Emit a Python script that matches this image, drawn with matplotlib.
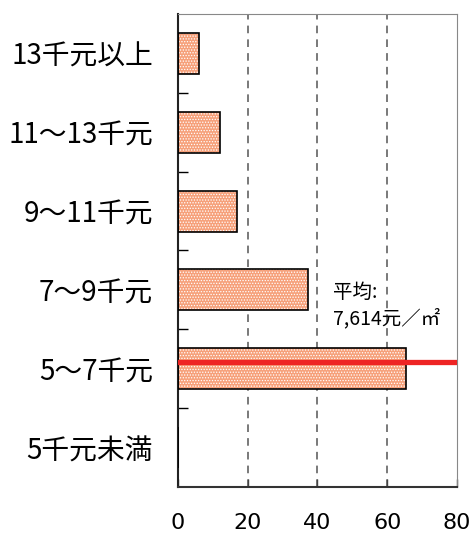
import numpy as np
import matplotlib.pyplot as plt

plt.rcParams['font.family'] = ['Noto Sans CJK JP', 'DejaVu Sans']
plt.rcParams['hatch.linewidth'] = 0.6

# 単価帯別の割合（%）
categories = ["13千元以上", "11～13千元", "9～11千元", "7～9千元", "5～7千元", "5千元未満"]
shares = [6.0, 12.0, 17.0, 37.3, 65.4, 0.0]
x_ticks = [0, 20, 40, 60, 80]
avg_label = "平均:\n7,614元／㎡"
avg_row = 3.92  # position of the average marker, in category units

fig = plt.figure(figsize=(4.7, 5.34), dpi=100)
ax = fig.add_axes([0.3787, 0.088, 0.5936, 0.8858])

y = np.arange(len(categories))
ax.barh(y, shares, height=0.52, color="#F6A07A", edgecolor="white",
        hatch="......", linewidth=0, zorder=2)
ax.barh(y, shares, height=0.52, fill=False, edgecolor="black",
        linewidth=1.2, zorder=3)

ax.axhline(avg_row, color="#EE2424", linewidth=3.8, zorder=4)
ax.text(44.5, 3.2, avg_label, fontsize=14, linespacing=1.35,
        va="center", ha="left")

ax.set_xlim(0, 80)
ax.set_ylim(len(categories) - 0.5, -0.5)
ax.set_xticks(x_ticks)
ax.set_xticklabels([str(t) for t in x_ticks], family="DejaVu Sans")
ax.set_yticks(y)
ax.set_yticklabels(categories)
ax.set_yticks(np.arange(0.5, len(categories) - 1, 1.0), minor=True)

ax.tick_params(axis="y", which="major", length=0, pad=18, labelsize=20)
ax.tick_params(axis="y", which="minor", direction="in", length=7,
               width=1.0, color="black")
ax.tick_params(axis="x", direction="in", length=6, width=1.0,
               color="#444444", pad=19, labelsize=16)

for v in [20, 40, 60]:
    ax.axvline(v, color="#555555", linestyle=(0, (5, 4)), linewidth=1.1,
               zorder=1)

ax.spines["left"].set_color("#222222")
ax.spines["left"].set_linewidth(1.5)
ax.spines["bottom"].set_color("#333333")
ax.spines["bottom"].set_linewidth(1.5)
ax.spines["top"].set_color("#888888")
ax.spines["right"].set_color("#888888")

fig.savefig("out.png", dpi=100)
